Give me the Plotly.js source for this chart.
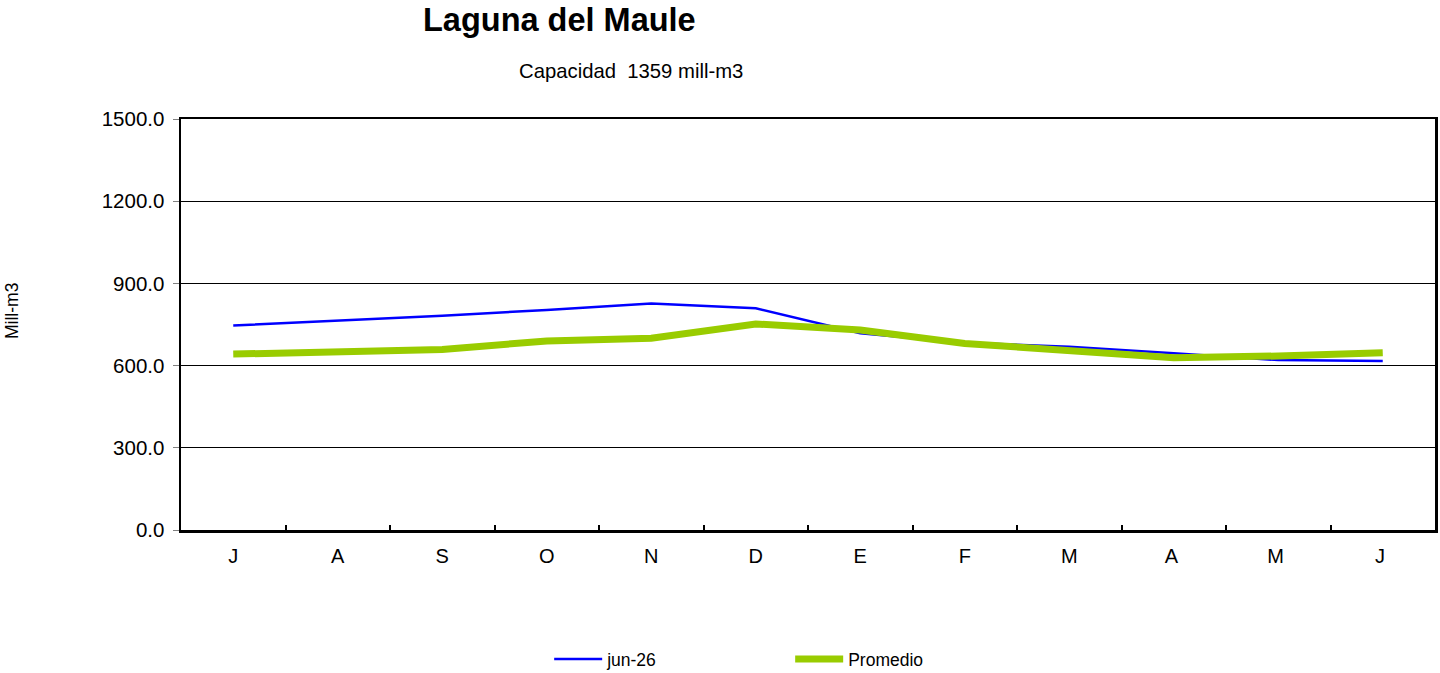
<!DOCTYPE html>
<html>
<head>
<meta charset="utf-8">
<script src="https://cdn.plot.ly/plotly-3.0.1.min.js"></script>
<style>html,body{margin:0;padding:0;background:#fff;}#chart{width:1440px;height:673px;}</style>
</head>
<body>
<div id="chart"></div>
<script>
var months = ["J", "A", "S", "O", "N", "D", "E", "F", "M", "A ", "M ", "J "];
var jun26 = [746, 764, 782, 803, 827, 809, 718, 683, 669, 645, 620, 617];
var promedio = [642, 652, 659, 690, 700, 752, 730, 681, 657, 629, 635, 647];
var yTicks = [0, 300, 600, 900, 1200, 1500];

var font = "Liberation Sans, Arial, sans-serif";

var traces = [
  {x: months, y: jun26, name: "jun-26", type: "scatter", mode: "lines",
   line: {color: "#0000ff", width: 2.5}},
  {x: months, y: promedio, name: "Promedio", type: "scatter", mode: "lines",
   line: {color: "#99cc00", width: 7, shape: "linear"}}
];

var layout = {
  width: 1440, height: 673,
  margin: {l: 181, r: 5, t: 119, b: 143, autoexpand: false},
  paper_bgcolor: "#ffffff", plot_bgcolor: "#ffffff",
  font: {family: font, size: 19, color: "#000"},
  showlegend: true,
  legend: {orientation: "h", x: 0.2936, xanchor: "left", y: -0.314, yanchor: "middle",
           font: {family: font, size: 17.5, color: "#000"},
           itemwidth: 48, entrywidth: 178, entrywidthmode: "pixels", traceorder: "normal"},
  annotations: [
    {text: "<b>Laguna del Maule</b>", xref: "paper", yref: "paper", x: (559-181)/1254, y: 1 + (119-0)/411,
     xanchor: "center", yanchor: "top", showarrow: false, font: {family: font, size: 32.5, color: "#000"}},
    {text: "Capacidad  1359 mill-m3", xref: "paper", yref: "paper", x: (631-181)/1254, y: 1 + (119-71)/411,
     xanchor: "center", yanchor: "middle", showarrow: false, font: {family: font, size: 20.3, color: "#000"}},
    {text: "Mill-m3", xref: "paper", yref: "paper", x: (12-181)/1254, y: (530-311)/411, textangle: -90,
     xanchor: "center", yanchor: "middle", showarrow: false, font: {family: font, size: 17.5, color: "#000"}}
  ],
  xaxis: {
    type: "category", range: [-0.5, 11.5], tickson: "boundaries", ticks: "inside", ticklen: 5, tickwidth: 2, tickcolor: "#000",
    showgrid: false, showline: true, linecolor: "#000", linewidth: 2.5, mirror: true, automargin: false,
    zeroline: false, tickfont: {family: font, size: 20, color: "#000"}, ticklabelstandoff: 6,
    fixedrange: true
  },
  yaxis: {
    range: [0, 1500], tickvals: yTicks, tickformat: ".1f", ticks: "outside", ticklen: 6, tickcolor: "#808080",
    showgrid: true, gridcolor: "#000", gridwidth: 1, showline: true, linecolor: "#000", linewidth: 2.5, mirror: true,
    automargin: false, zeroline: false, tickfont: {family: font, size: 20.5, color: "#000"}, ticklabelstandoff: 4, fixedrange: true
  }
};

Plotly.newPlot("chart", traces, layout, {displayModeBar: false, staticPlot: true});
</script>
</body>
</html>
